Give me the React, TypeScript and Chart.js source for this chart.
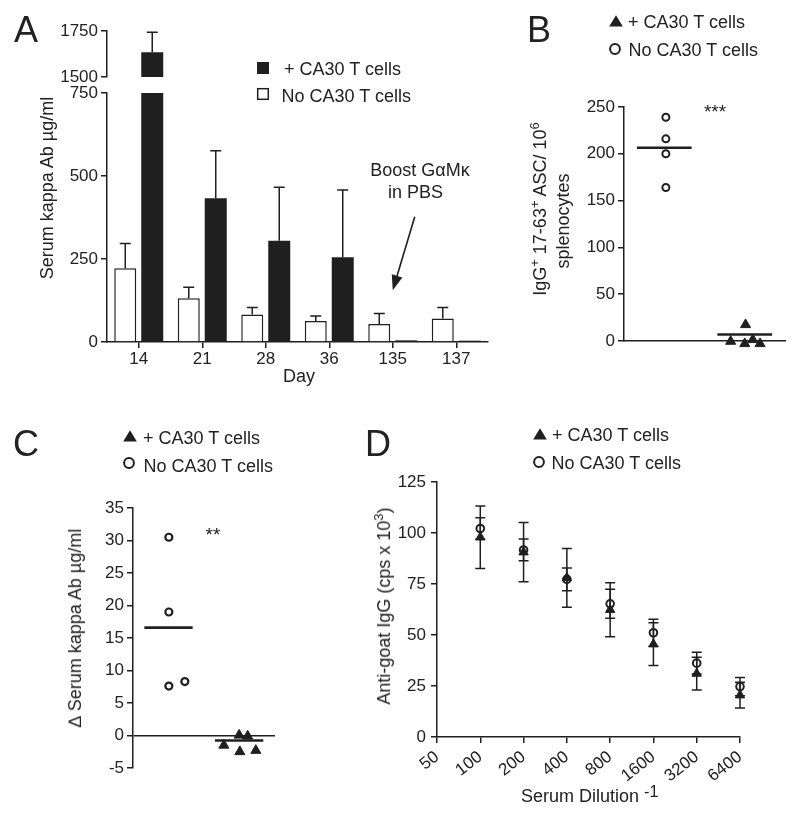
import React, { useEffect, useRef } from "react";
import { Chart, registerables } from "chart.js";

Chart.register(...registerables);

const PAGE_W = 800;
const PAGE_H = 822;
const FONT = "'Liberation Sans', Arial, Helvetica, sans-serif";
const INK = "#1f1f1f";
const TEXT = "#222222";

Chart.defaults.font.family = FONT;
Chart.defaults.color = TEXT;

// ---------------- Panel A data ----------------
const daysA = ["14", "21", "28", "36", "135", "137"];
const noCA30A = [222, 132, 83, 63, 54, 71];
const noCA30ErrA = [75, 33, 21, 15, 32, 33];
const withCA30A = [1634, 433, 305, 255, 5, 4];
const withCA30ErrA = [109, 143, 161, 203, 0, 0];
const yTicksALow = [0, 250, 500, 750];
const yTicksAHigh = [1500, 1750];

// ---------------- Panel B data ----------------
const noCA30B = [239, 216, 200, 164];
const noCA30JitterB = [1.04, 1.04, 1.04, 1.04];
const withCA30B = [-0.4, -2.9, 17.4, 1.4, -2.9];
const withCA30JitterB = [2.65, 3.0, 3.02, 3.2, 3.38];
const groupCentersB = [1, 3];
const meansB = [206.5, 7];
const yTicksB = [0, 50, 100, 150, 200, 250];

// ---------------- Panel C data ----------------
const noCA30C = [30.5, 19.0, 7.6, 8.3];
const noCA30JitterC = [1.01, 1.01, 1.01, 1.46];
const withCA30C = [-1.5, 0.05, -2.5, -0.1, -2.3];
const withCA30JitterC = [2.56, 2.99, 3.01, 3.23, 3.46];
const groupCentersC = [1, 2.99];
const meansC = [16.6, -0.77];
const yTicksC = [-5, 0, 5, 10, 15, 20, 25, 30, 35];

const MEAN_HALF = 0.68;

// ---------------- Panel D data ----------------
const dilutionsD = [100, 200, 400, 800, 1600, 3200, 6400];
const xTicksD = [50, 100, 200, 400, 800, 1600, 3200, 6400];
const withCA30D = [97.9, 90.6, 78, 62.4, 45.5, 31.1, 20.5];
const withCA30ErrD = [15.3, 14.5, 14.4, 13.2, 10.5, 8, 6.3];
const noCA30D = [102.2, 91.7, 77.3, 65.3, 51.1, 36.2, 24.7];
const noCA30ErrD = [5.3, 5.3, 5.6, 7.1, 6.6, 5.3, 4.5];
const yTicksD = [0, 25, 50, 75, 100, 125];

// ---------------- layout ----------------
type Area = { l: number; t: number; r: number; b: number };
const AREA_A_HIGH: Area = { l: 107, t: 31, r: 488, b: 77 };
const AREA_A_LOW: Area = { l: 107, t: 93, r: 488, b: 342 };
const AREA_B: Area = { l: 624, t: 107, r: 785, b: 341 };
const AREA_C: Area = { l: 133, t: 508, r: 275, b: 768 };
const AREA_D: Area = { l: 437, t: 482, r: 740, b: 737 };

const Y_BOX = 70;
const X_BOX = 60;

function pad(a: Area, yShown: boolean, xShown: boolean) {
  return {
    left: a.l - (yShown ? Y_BOX : 0),
    top: a.t,
    right: PAGE_W - a.r,
    bottom: PAGE_H - a.b - (xShown ? X_BOX : 0),
  };
}

const tickFont = { family: FONT, size: 17 };
const axisBorder = { display: true, color: INK, width: 1.5 };

function yAxis(min: number, max: number, ticks: number[], extra: any = {}) {
  return {
    type: "linear",
    min,
    max,
    afterFit: (s: any) => {
      s.width = Y_BOX;
    },
    afterBuildTicks: (s: any) => {
      s.ticks = ticks.map((v) => ({ value: v }));
    },
    ticks: { font: tickFont, color: TEXT, padding: 3, callback: (v: any) => String(v) },
    grid: { drawOnChartArea: false, drawTicks: true, tickLength: 6, color: INK, lineWidth: 1.5 },
    border: axisBorder,
    ...extra,
  };
}

// ---------------- plugins ----------------
function drawErrorBars(chart: any) {
  const { ctx, chartArea } = chart;
  ctx.save();
  ctx.beginPath();
  ctx.rect(chartArea.left - 10, chartArea.top - 1, chartArea.right - chartArea.left + 20, chartArea.bottom - chartArea.top + 2);
  ctx.clip();
  ctx.strokeStyle = INK;
  ctx.lineWidth = 1.5;
  chart.data.datasets.forEach((ds: any, di: number) => {
    const errs = ds.errors;
    if (!errs) return;
    const meta = chart.getDatasetMeta(di);
    const yScale = chart.scales[meta.yAxisID];
    meta.data.forEach((el: any, i: number) => {
      const e = errs[i];
      const d = ds.data[i];
      const v = typeof d === "number" ? d : d && d.y;
      if (!e || v == null) return;
      const x = el.x;
      const yTop = yScale.getPixelForValue(v + e);
      const yBot = ds.errorMode === "both" ? yScale.getPixelForValue(v - e) : el.y;
      const cap = ds.errorCap || 10;
      ctx.beginPath();
      ctx.moveTo(x, yBot);
      ctx.lineTo(x, yTop);
      ctx.moveTo(x - cap / 2, yTop);
      ctx.lineTo(x + cap / 2, yTop);
      if (ds.errorMode === "both") {
        ctx.moveTo(x - cap / 2, yBot);
        ctx.lineTo(x + cap / 2, yBot);
      }
      ctx.stroke();
    });
  });
  ctx.restore();
}

const errorBarsPlugin = {
  id: "errorBars",
  beforeDatasetsDraw(chart: any, _a: any, opts: any) {
    if (opts && opts.phase === "before") drawErrorBars(chart);
  },
  afterDatasetsDraw(chart: any, _a: any, opts: any) {
    if (!opts || opts.phase !== "before") drawErrorBars(chart);
  },
};

const arrowPlugin = {
  id: "arrowNote",
  afterDraw(chart: any, _a: any, opts: any) {
    if (!opts || opts.category == null) return;
    const xs = chart.scales.x;
    const ys = chart.scales.y;
    const tipX = xs.getPixelForValue(opts.category);
    const tipY = ys.getPixelForValue(opts.to);
    const tailX = tipX + opts.dx;
    const tailY = ys.getPixelForValue(opts.from);
    const ang = Math.atan2(tipY - tailY, tipX - tailX);
    const hl = 15;
    const hw = 5.5;
    const { ctx } = chart;
    ctx.save();
    ctx.strokeStyle = INK;
    ctx.fillStyle = INK;
    ctx.lineWidth = 1.6;
    ctx.beginPath();
    ctx.moveTo(tailX, tailY);
    ctx.lineTo(tipX - Math.cos(ang) * (hl - 2), tipY - Math.sin(ang) * (hl - 2));
    ctx.stroke();
    const bx = tipX - Math.cos(ang) * hl;
    const by = tipY - Math.sin(ang) * hl;
    ctx.beginPath();
    ctx.moveTo(tipX, tipY);
    ctx.lineTo(bx + Math.sin(ang) * hw, by - Math.cos(ang) * hw);
    ctx.lineTo(bx - Math.sin(ang) * hw, by + Math.cos(ang) * hw);
    ctx.closePath();
    ctx.fill();
    ctx.restore();
  },
};

const basePlugins = { legend: { display: false }, tooltip: { enabled: false } };

// ---------------- chart configs ----------------
function barDatasets(high: boolean) {
  return [
    {
      label: "No CA30 T cells",
      data: high ? noCA30A.map(() => null) : noCA30A,
      errors: high ? null : noCA30ErrA,
      errorMode: "up",
      errorCap: 11,
      backgroundColor: "#ffffff",
      borderColor: INK,
      borderWidth: 1.5,
      clip: 0,
    },
    {
      label: "+ CA30 T cells",
      data: high ? withCA30A.map((v, i) => (i === 0 ? v : null)) : withCA30A,
      errors: withCA30ErrA,
      errorMode: "up",
      errorCap: 11,
      backgroundColor: INK,
      borderWidth: 0,
      clip: 0,
    },
  ];
}

function makeAHigh() {
  return {
    type: "bar",
    data: { labels: daysA, datasets: barDatasets(true) },
    plugins: [errorBarsPlugin],
    options: {
      responsive: false,
      animation: false,
      events: [],
      layout: { padding: pad(AREA_A_HIGH, true, false) },
      plugins: { ...basePlugins, errorBars: { phase: "after" } },
      datasets: { bar: { categoryPercentage: 0.85, barPercentage: 0.815 } },
      scales: {
        x: { type: "category", offset: true, display: false },
        y: yAxis(1500, 1750, yTicksAHigh),
      },
    },
  };
}

function makeALow() {
  return {
    type: "bar",
    data: { labels: daysA, datasets: barDatasets(false) },
    plugins: [errorBarsPlugin, arrowPlugin],
    options: {
      responsive: false,
      animation: false,
      events: [],
      layout: { padding: pad(AREA_A_LOW, true, true) },
      plugins: {
        ...basePlugins,
        errorBars: { phase: "after" },
        arrowNote: { category: 4, from: 377, to: 156, dx: 22 },
      },
      datasets: { bar: { categoryPercentage: 0.85, barPercentage: 0.815 } },
      scales: {
        x: {
          type: "category",
          offset: true,
          afterFit: (s: any) => {
            s.height = X_BOX;
          },
          ticks: { font: tickFont, color: TEXT, padding: 1, autoSkip: false, maxRotation: 0 },
          grid: { offset: false, drawOnChartArea: false, tickLength: 6, color: INK, lineWidth: 1.5 },
          border: axisBorder,
        },
        y: yAxis(0, 750, yTicksALow),
      },
    },
  };
}

function dotDatasets(
  noVals: number[],
  noJit: number[],
  withVals: number[],
  withJit: number[],
  centers: number[],
  means: number[],
  circleBorder: number
) {
  const ds: any[] = [
    {
      label: "No CA30 T cells",
      data: noVals.map((y, i) => ({ x: noJit[i], y })),
      pointStyle: "circle",
      pointRadius: 3.5,
      pointBorderWidth: circleBorder,
      pointBorderColor: INK,
      pointBackgroundColor: "rgba(0,0,0,0)",
      clip: false,
    },
    {
      label: "+ CA30 T cells",
      data: withVals.map((y, i) => ({ x: withJit[i], y })),
      pointStyle: "triangle",
      pointRadius: 5.8,
      pointBorderWidth: 1,
      pointBorderColor: INK,
      pointBackgroundColor: INK,
      clip: false,
    },
  ];
  means.forEach((m, i) => {
    ds.push({
      label: "mean " + i,
      data: [
        { x: centers[i] - MEAN_HALF, y: m },
        { x: centers[i] + MEAN_HALF, y: m },
      ],
      showLine: true,
      borderColor: INK,
      borderWidth: 2.6,
      pointRadius: 0,
      fill: false,
      clip: false,
    });
  });
  return ds;
}

function makeB() {
  return {
    type: "scatter",
    data: {
      datasets: dotDatasets(noCA30B, noCA30JitterB, withCA30B, withCA30JitterB, groupCentersB, meansB, 2),
    },
    options: {
      responsive: false,
      animation: false,
      events: [],
      layout: { padding: pad(AREA_B, true, true) },
      plugins: basePlugins,
      scales: {
        x: {
          type: "linear",
          min: 0,
          max: 4,
          afterFit: (s: any) => {
            s.height = X_BOX;
          },
          ticks: { display: false },
          grid: { display: false },
          border: axisBorder,
        },
        y: yAxis(0, 250, yTicksB),
      },
    },
  };
}

function makeC() {
  return {
    type: "scatter",
    data: {
      datasets: dotDatasets(noCA30C, noCA30JitterC, withCA30C, withCA30JitterC, groupCentersC, meansC, 2.2),
    },
    options: {
      responsive: false,
      animation: false,
      events: [],
      layout: { padding: pad(AREA_C, true, false) },
      plugins: basePlugins,
      scales: {
        x: { type: "linear", min: 0, max: 4, display: false },
        y: yAxis(-5, 35, yTicksC, {
          grid: {
            drawOnChartArea: true,
            drawTicks: true,
            tickLength: 6,
            lineWidth: 1.5,
            tickColor: INK,
            color: (c: any) => (c.tick && c.tick.value === 0 ? INK : "rgba(0,0,0,0)"),
          },
        }),
      },
    },
  };
}

function makeD() {
  return {
    type: "scatter",
    data: {
      datasets: [
        {
          label: "No CA30 T cells",
          data: dilutionsD.map((x, i) => ({ x, y: noCA30D[i] })),
          errors: noCA30ErrD,
          errorMode: "both",
          errorCap: 10,
          pointStyle: "circle",
          pointRadius: 3.8,
          pointBorderWidth: 2,
          pointBorderColor: INK,
          pointBackgroundColor: "rgba(0,0,0,0)",
          clip: false,
        },
        {
          label: "+ CA30 T cells",
          data: dilutionsD.map((x, i) => ({ x, y: withCA30D[i] })),
          errors: withCA30ErrD,
          errorMode: "both",
          errorCap: 10,
          pointStyle: "triangle",
          pointRadius: 5.4,
          pointBorderWidth: 1,
          pointBorderColor: INK,
          pointBackgroundColor: INK,
          clip: false,
        },
      ],
    },
    plugins: [errorBarsPlugin],
    options: {
      responsive: false,
      animation: false,
      events: [],
      layout: { padding: pad(AREA_D, true, true) },
      plugins: { ...basePlugins, errorBars: { phase: "before" } },
      scales: {
        x: {
          type: "logarithmic",
          min: 50,
          max: 6400,
          afterFit: (s: any) => {
            s.height = X_BOX;
          },
          afterBuildTicks: (s: any) => {
            s.ticks = xTicksD.map((v) => ({ value: v }));
          },
          ticks: {
            font: tickFont,
            color: TEXT,
            padding: 4,
            autoSkip: false,
            minRotation: 38,
            maxRotation: 38,
            callback: (v: any) => String(v),
          },
          grid: { drawOnChartArea: false, tickLength: 6, color: INK, lineWidth: 1.5 },
          border: axisBorder,
        },
        y: yAxis(0, 125, yTicksD, {
          ticks: { font: tickFont, color: TEXT, padding: 5, callback: (v: any) => String(v) },
        }),
      },
    },
  };
}

// ---------------- components ----------------
function ChartLayer({ make }: { make: () => any }) {
  const ref = useRef<HTMLCanvasElement>(null);
  useEffect(() => {
    const chart = new Chart(ref.current as HTMLCanvasElement, make());
    return () => chart.destroy();
  }, []);
  return (
    <canvas
      ref={ref}
      width={PAGE_W}
      height={PAGE_H}
      style={{ position: "absolute", left: 0, top: 0, width: PAGE_W, height: PAGE_H }}
    />
  );
}

function Txt({ x, y, size = 18, align = "left", children }: any) {
  const tx = align === "center" ? "translateX(-50%)" : align === "right" ? "translateX(-100%)" : "none";
  return (
    <div
      style={{
        position: "absolute",
        left: x,
        top: y - size / 2,
        fontSize: size,
        lineHeight: `${size}px`,
        whiteSpace: "nowrap",
        transform: tx,
      }}
    >
      {children}
    </div>
  );
}

function VTxt({ x, y, size = 18, children }: any) {
  return (
    <div
      style={{
        position: "absolute",
        left: x,
        top: y,
        fontSize: size,
        lineHeight: `${size}px`,
        whiteSpace: "nowrap",
        transform: "translate(-50%,-50%) rotate(-90deg)",
      }}
    >
      {children}
    </div>
  );
}

function Sup({ children, scale = 0.72, lift = 0.55 }: any) {
  return (
    <span style={{ fontSize: `${scale}em`, position: "relative", top: `-${lift}em` }}>{children}</span>
  );
}

function Marker({ kind, cx, cy }: { kind: string; cx: number; cy: number }) {
  const s = 18;
  const c = s / 2;
  let shape: any = null;
  if (kind === "tri")
    shape = <polygon points={`${c - 6.8},${c + 5.5} ${c + 6.8},${c + 5.5} ${c},${c - 5.8}`} fill={INK} />;
  else if (kind === "circle")
    shape = <circle cx={c} cy={c} r={4.9} fill="none" stroke={INK} strokeWidth={2} />;
  else if (kind === "sqFilled") shape = <rect x={c - 6} y={c - 6} width={12} height={12} fill={INK} />;
  else
    shape = (
      <rect x={c - 5.3} y={c - 5.3} width={10.6} height={10.6} fill="#fff" stroke={INK} strokeWidth={1.5} />
    );
  return (
    <svg width={s} height={s} style={{ position: "absolute", left: cx - c, top: cy - c }}>
      {shape}
    </svg>
  );
}

export default function App() {
  return (
    <div
      style={{
        position: "absolute",
        left: 0,
        top: 0,
        width: PAGE_W,
        height: PAGE_H,
        background: "#ffffff",
        overflow: "hidden",
        fontFamily: FONT,
        color: TEXT,
      }}
    >
      <ChartLayer make={makeAHigh} />
      <ChartLayer make={makeALow} />
      <ChartLayer make={makeB} />
      <ChartLayer make={makeC} />
      <ChartLayer make={makeD} />

      {/* Panel letters */}
      <Txt x={14} y={30} size={36}>A</Txt>
      <Txt x={527} y={29.5} size={36}>B</Txt>
      <Txt x={13} y={443.5} size={36}>C</Txt>
      <Txt x={365} y={444} size={36}>D</Txt>

      {/* Panel A texts */}
      <VTxt x={47} y={188}>Serum kappa Ab µg/ml</VTxt>
      <Txt x={299} y={376} align="center">Day</Txt>
      <Txt x={420} y={170} align="center">Boost GαMκ</Txt>
      <Txt x={415.5} y={192} align="center">in PBS</Txt>
      <Marker kind="sqFilled" cx={263} cy={67.5} />
      <Txt x={284} y={69}>+ CA30 T cells</Txt>
      <Marker kind="sqOpen" cx={263} cy={94} />
      <Txt x={281.5} y={96}>No CA30 T cells</Txt>

      {/* Panel B texts */}
      <Marker kind="tri" cx={615.5} cy={21} />
      <Txt x={628} y={22}>+ CA30 T cells</Txt>
      <Marker kind="circle" cx={615} cy={49} />
      <Txt x={628.5} y={50}>No CA30 T cells</Txt>
      <VTxt x={541} y={209}>
        IgG<Sup>+</Sup> 17-63<Sup>+</Sup> ASC/ 10<Sup>6</Sup>
      </VTxt>
      <VTxt x={563} y={221}>splenocytes</VTxt>
      <Txt x={715} y={111} size={19} align="center">***</Txt>

      {/* Panel C texts */}
      <Marker kind="tri" cx={130} cy={436} />
      <Txt x={143} y={438}>+ CA30 T cells</Txt>
      <Marker kind="circle" cx={129} cy={463} />
      <Txt x={143.6} y={466}>No CA30 T cells</Txt>
      <VTxt x={75} y={628}>∆ Serum kappa Ab µg/ml</VTxt>
      <Txt x={213} y={534.5} size={19} align="center">**</Txt>

      {/* Panel D texts */}
      <Marker kind="tri" cx={539.5} cy={434} />
      <Txt x={552} y={435}>+ CA30 T cells</Txt>
      <Marker kind="circle" cx={538.5} cy={462} />
      <Txt x={551.6} y={463}>No CA30 T cells</Txt>
      <VTxt x={385} y={606}>
        Anti-goat IgG (cps x 10<Sup>3</Sup>)
      </VTxt>
      <Txt x={521} y={796}>
        Serum Dilution <Sup scale={0.9} lift={0.3}>-1</Sup>
      </Txt>
    </div>
  );
}
